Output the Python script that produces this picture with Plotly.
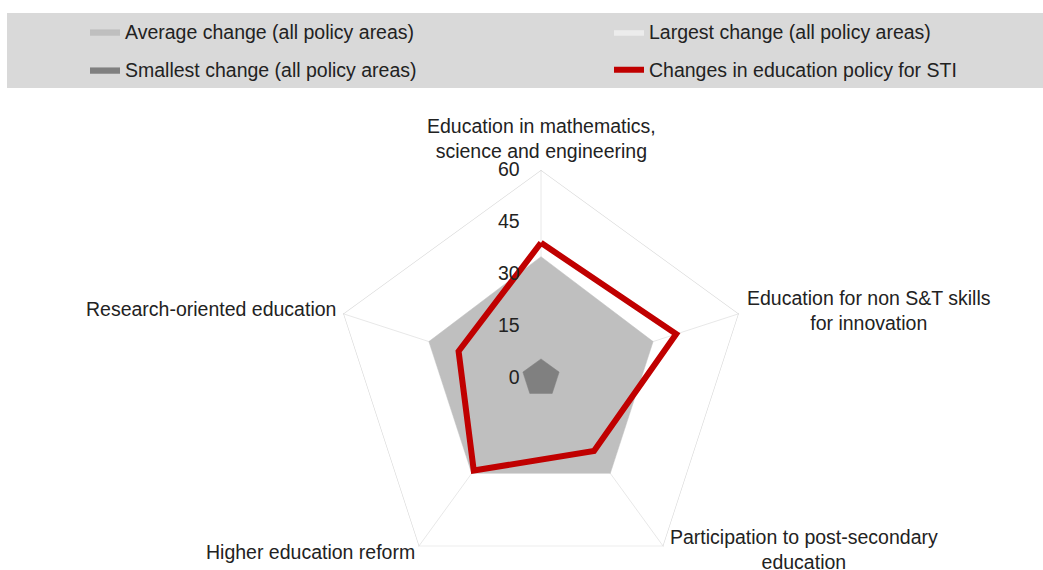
import plotly.graph_objects as go

# ---------------- data ----------------
categories = [
    "Education in mathematics,<br>science and engineering",
    "Education for non S&T skills<br>for innovation",
    "Participation to post-secondary<br>education",
    "Higher education reform",
    "Research-oriented education",
]
average_change = [35, 34, 34, 34, 34]
largest_change = [60, 60, 60, 60, 60]
smallest_change = [5.5, 5.5, 5.5, 5.5, 5.5]
sti_changes = [39, 41, 26, 33, 25]
radial_ticks = [0, 15, 30, 45, 60]

series_names = [
    "Average change (all policy areas)",
    "Largest change (all policy areas)",
    "Smallest change (all policy areas)",
    "Changes in education policy for STI",
]

# ---------------- layout helpers ----------------
W, H = 1043, 600          # figure is a bit taller than the 570 px window; the overflow is hidden
FONT = "Liberation Sans, Arial, sans-serif"
TXT = "#222222"
FS = 19.5


def px(x):
    return x / W


def py(y):
    return 1 - y / H


def closed(vals):
    return list(vals) + [vals[0]]


theta_closed = closed(categories)

fig = go.Figure()

fig.add_trace(go.Scatterpolar(
    r=closed(largest_change), theta=theta_closed, name=series_names[1],
    mode="lines", fill="toself", fillcolor="rgba(255,255,255,0.5)",
    line=dict(color="#d9d9d9", width=1.2), legend="legend2", showlegend=True,
    hoverinfo="skip",
))
fig.add_trace(go.Scatterpolar(
    r=closed(average_change), theta=theta_closed, name=series_names[0],
    mode="lines", fill="toself", fillcolor="#bfbfbf",
    line=dict(color="#bfbfbf", width=0.5), legend="legend", showlegend=True,
))
fig.add_trace(go.Scatterpolar(
    r=closed(smallest_change), theta=theta_closed, name=series_names[2],
    mode="lines", fill="toself", fillcolor="#808080",
    line=dict(color="#808080", width=0.5), legend="legend3", showlegend=True,
))
fig.add_trace(go.Scatterpolar(
    r=closed(sti_changes), theta=theta_closed, name=series_names[3],
    mode="lines", line=dict(color="#c00000", width=6), legend="legend4",
    showlegend=True,
))

# polar geometry: centre (541, 378), radius 208 px
cx, cy, R = 541, 378, 208


def legend_at(x, y):
    return dict(
        orientation="h", x=px(x), xanchor="left", y=py(y), yanchor="middle",
        bgcolor="rgba(0,0,0,0)", font=dict(family=FONT, size=FS, color=TXT),
        itemclick=False, itemdoubleclick=False,
    )


fig.update_layout(
    width=W, height=H,
    showlegend=True,
    margin=dict(l=0, r=0, t=0, b=0, autoexpand=False),
    paper_bgcolor="white",
    font=dict(family=FONT, size=FS, color=TXT),
    polar=dict(
        domain=dict(x=[px(cx - R), px(cx + R)], y=[py(cy + R), py(cy - R)]),
        bgcolor="rgba(0,0,0,0)",
        gridshape="linear",
        radialaxis=dict(
            range=[0, 60], tickvals=radial_ticks, angle=90, side="counterclockwise",
            tickangle=90, showline=False, showgrid=False,
            ticks="outside", ticklen=14, tickcolor="rgba(0,0,0,0)",
            tickfont=dict(family=FONT, size=FS, color=TXT),
        ),
        angularaxis=dict(
            direction="clockwise", rotation=90, showticklabels=False, ticks="",
            showline=False, showgrid=True, gridcolor="#d0d0d0", gridwidth=1,
        ),
    ),
    legend=legend_at(85, 32),
    legend2=legend_at(609, 32),
    legend3=legend_at(85, 70),
    legend4=legend_at(609, 70),
    shapes=[dict(
        type="rect", xref="paper", yref="paper", x0=px(7), x1=1, y0=py(88), y1=py(13),
        fillcolor="#d9d9d9", line=dict(width=0), layer="below",
    )],
)

# category labels
label_pos = [
    (541, 138, "center", "middle"),
    (869, 310, "center", "middle"),
    (804, 549, "center", "middle"),
    (310, 552, "center", "middle"),
    (338, 309, "right", "middle"),
]
for text, (lx, ly, xa, ya) in zip(categories, label_pos):
    fig.add_annotation(
        text=text, x=px(lx), y=py(ly), xref="paper", yref="paper",
        xanchor=xa, yanchor=ya, align="center", showarrow=False,
        font=dict(family=FONT, size=FS, color=TXT),
    )

fig.write_html(
    "out.html",
    config={"displayModeBar": False},
    post_script=(
        "document.body.style.margin='0';"
        "document.body.style.overflow='hidden';"
        "document.documentElement.style.overflow='hidden';"
    ),
)
